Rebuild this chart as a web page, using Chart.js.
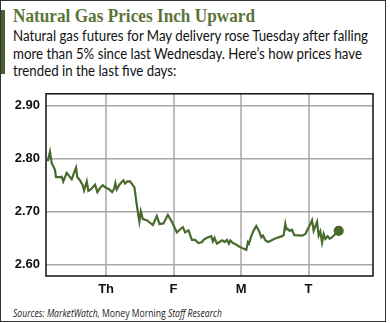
<!DOCTYPE html>
<html>
<head>
<meta charset="utf-8">
<script src="https://cdn.jsdelivr.net/npm/chart.js@4"></script>
<style>
  body { margin: 0; width: 390px; height: 323px; background: #fff; position: relative; overflow: hidden; }
  .frame { position: absolute; left: 0; top: 0; width: 384px; height: 320px; border: 1.5px solid #333; }
  .bar { position: absolute; left: 1px; top: 10px; width: 4px; height: 64px; background: #4b5e33; }
  .title { position: absolute; left: 13px; top: 6px; font: bold 18px "Liberation Serif", serif; color: #5b7438; white-space: nowrap; transform-origin: 0 0; }
  .sub { position: absolute; left: 13px; font: 14.5px "Lato", sans-serif; color: #111; white-space: nowrap; transform-origin: 0 0; }
  .src { position: absolute; left: 13px; top: 306px; font: 10.5px "Open Sans", sans-serif; color: #222; white-space: nowrap; transform-origin: 0 0; }
  #wrap { position: absolute; left: 0; top: 80px; width: 380px; height: 220px; }
</style>
</head>
<body>
<div class="frame"></div>
<div class="bar"></div>
<div class="title" data-w="242">Natural Gas Prices Inch Upward</div>
<div class="sub" id="sub1" style="top:27px">Natural gas futures for May delivery rose Tuesday after falling</div>
<div class="sub" style="top:45px">more than 5% since last Wednesday. Here’s how prices have</div>
<div class="sub" style="top:62px">trended in the last five days:</div>
<div class="src" data-w="209"><i>Sources: MarketWatch,</i> Money Morning <i>Staff Research</i></div>
<div id="wrap"><canvas id="chart"></canvas></div>
<script>
// x in trading days (Th = 1)
const days = [0.135, 0.169, 0.194, 0.228, 0.243, 0.258, 0.318, 0.343, 0.366, 0.417,
  0.466, 0.491, 0.525, 0.555, 0.574, 0.614, 0.654, 0.674, 0.714, 0.737,
  0.773, 0.837, 0.871, 0.911, 0.951, 1.000, 1.049, 1.089, 1.119, 1.138,
  1.159, 1.197, 1.233, 1.257, 1.282, 1.316, 1.356, 1.381, 1.420, 1.455,
  1.479, 1.494, 1.515, 1.545, 1.604, 1.693, 1.752, 1.791, 1.850, 1.915,
  1.975, 2.049, 2.098, 2.138, 2.172, 2.221, 2.272, 2.320, 2.369, 2.424,
  2.444, 2.494, 2.558, 2.583, 2.607, 2.642, 2.681, 2.721, 2.755, 2.791,
  2.820, 2.840, 2.880, 2.918, 2.978, 3.028, 3.077, 3.102, 3.117, 3.151,
  3.185, 3.226, 3.266, 3.300, 3.325, 3.363, 3.399, 3.448, 3.497, 3.607,
  3.631, 3.656, 3.671, 3.690, 3.720, 3.755, 3.789, 3.904, 3.953, 3.987,
  4.027, 4.052, 4.076, 4.101, 4.126, 4.150, 4.175, 4.200, 4.224, 4.249,
  4.283, 4.313, 4.349, 4.383, 4.412, 4.447]
const prices = [2.795, 2.813, 2.792, 2.783, 2.779, 2.765, 2.765, 2.766, 2.757, 2.773,
  2.765, 2.761, 2.773, 2.783, 2.765, 2.759, 2.750, 2.740, 2.757, 2.739,
  2.742, 2.751, 2.737, 2.745, 2.750, 2.745, 2.742, 2.737, 2.743, 2.754,
  2.742, 2.751, 2.756, 2.759, 2.753, 2.757, 2.757, 2.753, 2.746, 2.713,
  2.692, 2.681, 2.701, 2.686, 2.684, 2.675, 2.692, 2.677, 2.678, 2.694,
  2.681, 2.661, 2.667, 2.671, 2.661, 2.665, 2.647, 2.647, 2.641, 2.643,
  2.647, 2.651, 2.654, 2.644, 2.651, 2.640, 2.643, 2.646, 2.643, 2.647,
  2.640, 2.646, 2.641, 2.639, 2.634, 2.631, 2.628, 2.643, 2.640, 2.654,
  2.664, 2.673, 2.664, 2.652, 2.655, 2.646, 2.643, 2.646, 2.649, 2.654,
  2.656, 2.677, 2.667, 2.668, 2.664, 2.666, 2.656, 2.655, 2.658, 2.667,
  2.677, 2.684, 2.664, 2.673, 2.681, 2.655, 2.663, 2.642, 2.658, 2.649,
  2.654, 2.649, 2.652, 2.656, 2.661, 2.664]
const dayTicks = [1, 2, 3, 4]
const dayLabels = ["Th", "F", "M", "T"]
const priceTicks = [2.6, 2.7, 2.8, 2.9]

const green = "#486a2a"

document.querySelectorAll("[data-w]").forEach(el => {
  const w = el.getBoundingClientRect().width
  el.style.transform = "scaleX(" + (Number(el.dataset.w) / w) + ")"
})
// one squeeze for all three subtitle lines, taken from the first
const subScale = 355 / document.getElementById("sub1").getBoundingClientRect().width
document.querySelectorAll(".sub").forEach(el => {
  el.style.transform = "scaleX(" + subScale + ")"
})

const frameBox = {
  id: "frameBox",
  afterDraw(chart) {
    const a = chart.chartArea
    const c = chart.ctx
    c.save()
    c.strokeStyle = "#111"
    c.lineWidth = 1.5
    c.strokeRect(a.left, a.top, a.right - a.left, a.bottom - a.top)
    c.restore()
  }
}

const ctx = document.getElementById("chart").getContext("2d")

new Chart(ctx, {
  type: "line",
  data: {
    datasets: [{
      data: days.map((d, i) => ({ x: d, y: prices[i] })),
      borderColor: green,
      backgroundColor: green,
      borderWidth: 2.2,
      tension: 0,
      pointRadius: c => c.dataIndex === prices.length - 1 ? 4 : 0,
      pointHoverRadius: 0
    }]
  },
  options: {
    responsive: true,
    maintainAspectRatio: false,
    animation: false,
    layout: { padding: { top: 8, right: 7, left: 0, bottom: 0 } },
    plugins: { legend: { display: false }, tooltip: { enabled: false } },
    scales: {
      x: {
        type: "linear",
        min: 0.11,
        max: 4.955,
        afterBuildTicks: s => { s.ticks = dayTicks.map(v => ({ value: v })) },
        afterFit: s => { s.height = 24 },
        ticks: {
          padding: 6,
          color: "#111",
          font: { family: "Liberation Sans", weight: "bold", size: 13 },
          callback: v => dayLabels[dayTicks.indexOf(v)]
        },
        grid: { color: "#bdbdbd", lineWidth: 2, drawTicks: false },
        border: { display: false }
      },
      y: {
        min: 2.579,
        max: 2.922,
        afterBuildTicks: s => { s.ticks = priceTicks.map(v => ({ value: v })) },
        afterFit: s => { s.width = 46 },
        ticks: {
          padding: 6,
          color: "#111",
          font: { family: "Liberation Sans", weight: "bold", size: 13 },
          callback: v => v.toFixed(2)
        },
        grid: { color: "#a8a8a8", lineWidth: 1.5, drawTicks: false },
        border: { display: false }
      }
    }
  },
  plugins: [frameBox]
})
</script>
</body>
</html>
